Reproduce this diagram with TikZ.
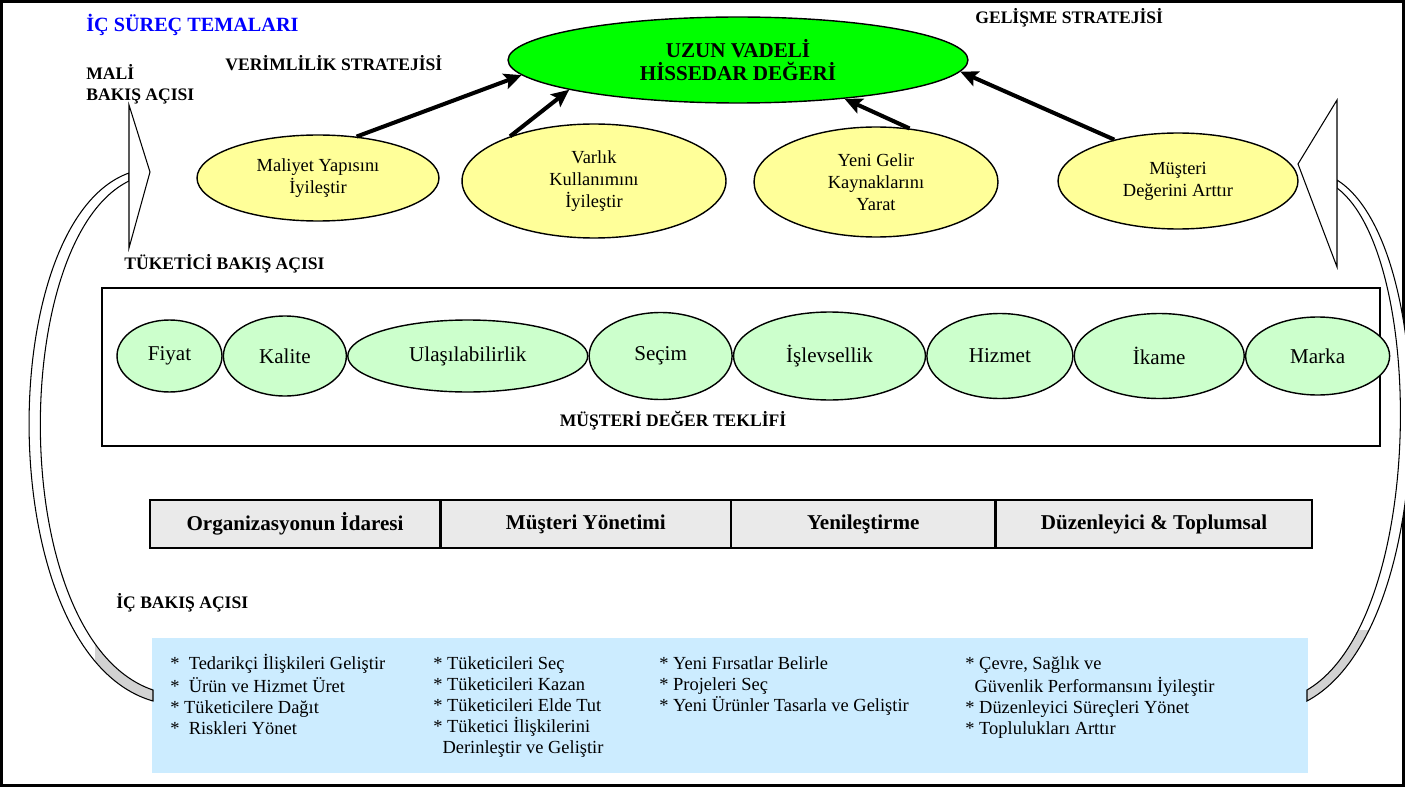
\documentclass[tikz,border=0pt]{standalone}
\usepackage{fontspec}
\setmainfont{Liberation Serif}
\usetikzlibrary{positioning,shapes.geometric,arrows.meta}
\definecolor{hedefyesil}{RGB}{0,255,0}
\definecolor{sariacik}{RGB}{255,255,153}
\definecolor{yesilacik}{RGB}{204,255,204}
\definecolor{maviacik}{RGB}{204,236,255}
\definecolor{baslikmavi}{RGB}{0,0,255}
\definecolor{gricubuk}{RGB}{234,234,234}
\newcommand{\solbant}{(129,173) .. controls (-8,222) and (-8,655) .. (153,701) -- (153,690) .. controls (6,640) and (8,240) .. (129,181) -- cycle}
\newcommand{\sagbant}{(1337,180) .. controls (1440,245) and (1440,630) .. (1307,701) -- (1307,690) .. controls (1426,620) and (1426,255) .. (1337,188) -- cycle}
\begin{document}
\begin{tikzpicture}[x=0.02cm,y=-0.02cm,
	baslik/.style={anchor=west,inner sep=0,font=\fontsize{10}{12}\selectfont\bfseries},
	amac/.style={ellipse,draw,thick,fill=sariacik,align=center,inner sep=0,font=\fontsize{10.5}{12.5}\selectfont},
	deger/.style={ellipse,draw,thick,fill=yesilacik,inner sep=0,font=\fontsize{12}{14}\selectfont},
	surec/.style={rectangle,draw,thick,fill=gricubuk,minimum height=0.96cm,inner sep=0,font=\fontsize{12}{14}\selectfont\bfseries},
	liste/.style={anchor=north west,align=left,inner sep=0,font=\fontsize{10.5}{12}\selectfont},
	oklar/.style={-{Stealth[length=10pt,width=9pt,inset=2pt]},line width=2.3pt},
	bant/.style={draw,line width=0.6pt,fill=white}]
	\useasboundingbox (0,0) rectangle (1405,787);
	\draw[line width=1.2pt] (1.5,1.5) rectangle (1403.5,785.5);

	% basliklar
	\node[baslik,text=baslikmavi,font=\fontsize{11.5}{14}\selectfont\bfseries] (tema) at (86,25) {İÇ SÜREÇ TEMALARI};
	\node[baslik,align=left] (mali) at (86,84) {MALİ\\BAKIŞ AÇISI};
	\node[baslik] (verim) at (225,63) {VERİMLİLİK STRATEJİSİ};
	\node[baslik] (gelisme) at (975,18) {GELİŞME STRATEJİSİ};
	\node[baslik] (tuketici) at (124,264) {TÜKETİCİ BAKIŞ AÇISI};
	\node[baslik] (ic) at (116,603) {İÇ BAKIŞ AÇISI};

	% mali bakis acisi
	\node[ellipse,draw,thick,fill=hedefyesil,minimum width=9.2cm,minimum height=1.72cm,inner sep=0,align=center,font=\fontsize{12}{13.5}\selectfont\bfseries] (hissedar) at (738,60) {UZUN VADELİ\\HİSSEDAR DEĞERİ};
	\node[amac,minimum width=4.84cm,minimum height=1.72cm] (maliyet) at (318,178) {Maliyet Yapısını\\İyileştir};
	\node[amac,minimum width=5.28cm,minimum height=2.28cm] (varlik) at (594,181) {Varlık\\Kullanımını\\İyileştir};
	\node[amac,minimum width=4.88cm,minimum height=2.2cm] (gelir) at (876,182) {Yeni Gelir\\Kaynaklarını\\Yarat};
	\node[amac,minimum width=4.8cm,minimum height=1.92cm] (musteri) at (1178,181) {Müşteri\\Değerini Arttır};
	\draw[oklar] (maliyet.47) -- (hissedar.184);
	\draw[oklar] (varlik.152) -- (hissedar.190);
	\draw[oklar] (gelir.58) -- (hissedar.340);
	\draw[oklar] (musteri.147) -- (hissedar.357);

	% musteri deger teklifi
	\draw[thick] (102,288) rectangle (1380,446);
	\node[deger,minimum width=2.1cm,minimum height=1.44cm] (fiyat) at (169.5,356) {Fiyat};
	\node[deger,minimum width=2.46cm,minimum height=1.6cm,right=0pt of fiyat] (kalite) {Kalite};
	\node[deger,minimum width=4.8cm,minimum height=1.44cm,right=0pt of kalite] (ulasim) {Ulaşılabilirlik};
	\node[deger,minimum width=2.86cm,minimum height=1.74cm,right=0pt of ulasim] (secim) {Seçim};
	\node[deger,minimum width=3.84cm,minimum height=1.76cm,right=0pt of secim] (islev) {İşlevsellik};
	\node[deger,minimum width=2.92cm,minimum height=1.7cm,right=0pt of islev] (hizmet) {Hizmet};
	\node[deger,minimum width=3.4cm,minimum height=1.7cm,right=0pt of hizmet] (ikame) {İkame};
	\node[deger,minimum width=2.88cm,minimum height=1.56cm,right=0pt of ikame] (marka) {Marka};
	\node[inner sep=0,font=\fontsize{10}{12}\selectfont\bfseries] (teklif) at (673,421) {MÜŞTERİ DEĞER TEKLİFİ};

	% ic surecler
	\node[surec,minimum width=5.8cm] (idare) at (295,524) {Organizasyonun İdaresi};
	\node[surec,minimum width=5.78cm,right=0pt of idare] (yonetim) {Müşteri Yönetimi};
	\node[surec,minimum width=5.26cm,right=0pt of yonetim] (yenilik) {Yenileştirme};
	\node[surec,minimum width=6.32cm,right=0pt of yenilik] (duzen) {Düzenleyici \& Toplumsal};

	% donus oklari
	\fill[maviacik] (152,638) rectangle (1308,773);
	\fill[white] \solbant;
	\fill[white] \sagbant;
	\begin{scope}
		\clip (95,630) rectangle (160,712);
		\fill[gray!35] \solbant;
	\end{scope}
	\begin{scope}
		\clip (1300,630) rectangle (1375,712);
		\fill[gray!35] \sagbant;
	\end{scope}
	\draw[line width=0.6pt] \solbant;
	\draw[line width=0.6pt] \sagbant;
	\filldraw[bant] (129,105) -- (150,172) -- (129,248) -- cycle;
	\filldraw[bant] (1337,100) -- (1298,164) -- (1337,267) -- cycle;

	\node[liste] (operasyon) at (170,654) {\strut*\ \ Tedarikçi İlişkileri Geliştir\\*\ \ Ürün ve Hizmet Üret\\* Tüketicilere Dağıt\\*\ \ Riskleri Yönet};
	\node[liste] (tuketiciler) at (433,654) {\strut* Tüketicileri Seç\\* Tüketicileri Kazan\\* Tüketicileri Elde Tut\\* Tüketici İlişkilerini\\\ \ Derinleştir ve Geliştir};
	\node[liste] (firsatlar) at (659,654) {\strut* Yeni Fırsatlar Belirle\\* Projeleri Seç\\* Yeni Ürünler Tasarla ve Geliştir};
	\node[liste] (toplum) at (965,654) {\strut* Çevre, Sağlık ve\\\ \ Güvenlik Performansını İyileştir\\* Düzenleyici Süreçleri Yönet\\* Toplulukları Arttır};
\end{tikzpicture}
\end{document}
